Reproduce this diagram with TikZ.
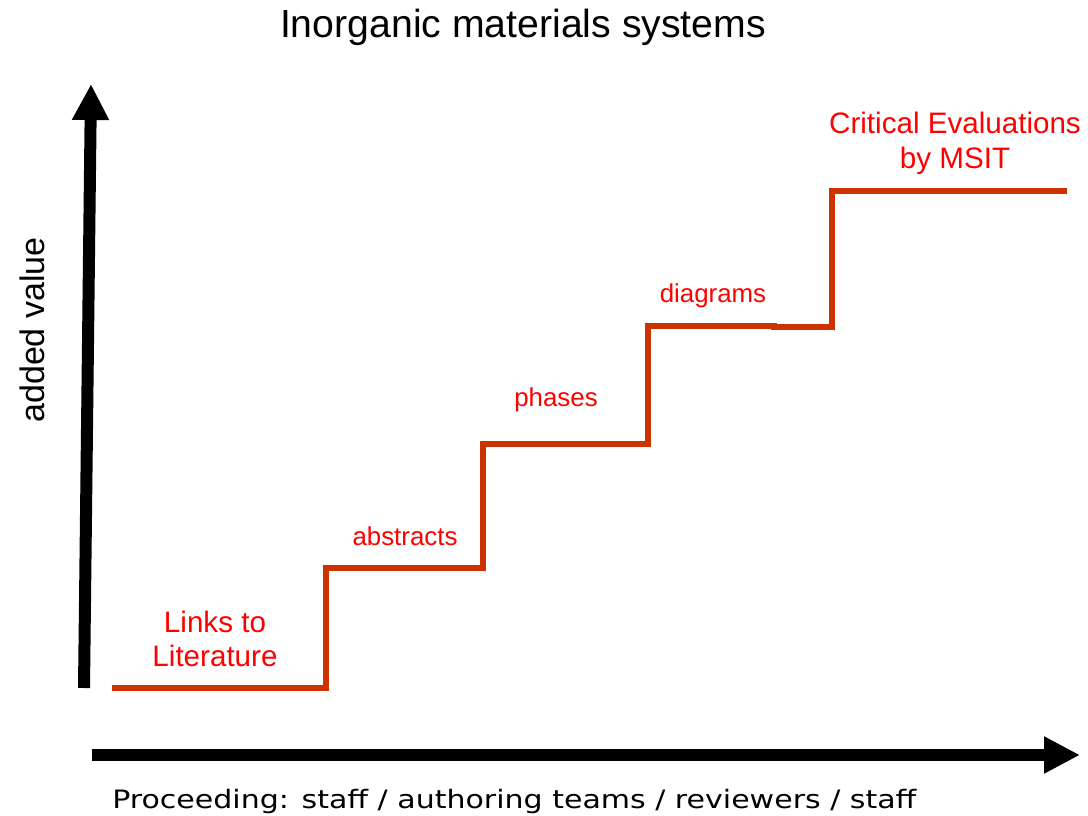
\documentclass[tikz,border=0pt]{standalone}
\usepackage{fontspec}
\setmainfont{Liberation Sans}
\newfontfamily\verd{DejaVu Sans}
\usetikzlibrary{arrows.meta}
\definecolor{stepc}{HTML}{CC3300}
\definecolor{lab}{HTML}{FF0000}
\tikzset{
  axis/.style={line width=9pt, -{Triangle[length=27pt,width=26pt]}},
  stepline/.style={line width=4.5pt, stepc, line join=miter},
  lbl/.style={text=lab, font=\fontsize{19.4}{25}\selectfont, align=center, inner sep=0pt},
  biglbl/.style={text=lab, font=\fontsize{22.2}{26}\selectfont, align=center, inner sep=0pt}
}
\begin{document}
\begin{tikzpicture}[x=0.75pt,y=-0.75pt]
\useasboundingbox (0,0) rectangle (1088,816);
% axes
\coordinate (ybot) at (84,688);
\coordinate (ytop) at (91,84);
\coordinate (xleft) at (92,755);
\coordinate (xright) at (1080,755);
\draw[axis] (ybot) -- (ytop);
\draw[axis] (xleft) -- (xright);
% step line
\draw[stepline] (112,688) -- (326,688) -- (326,568) -- (483,568) -- (483,444) -- (648,444) -- (648,326) -- (774,326) -- (774,327) -- (832,327) -- (832,191) -- (1067,191);
% labels
\node[anchor=base, font=\fontsize{29.4}{33}\selectfont, inner sep=0pt] (title) at (523,38) {Inorganic materials systems};
\node[anchor=base, rotate=90, font=\fontsize{25.5}{30}\selectfont, inner sep=0pt] (yl) at (44,330) {added value};
\node[biglbl, anchor=base] (l1) at (215,632) {Links to};
\node[biglbl, anchor=base] (l2) at (215,666) {Literature};
\node[lbl, anchor=base] (abs) at (405,545) {abstracts};
\node[lbl, anchor=base] (ph) at (556,406) {phases};
\node[lbl, anchor=base] (dg) at (713,303) {diagrams};
\node[biglbl, anchor=base] (c1) at (955,134) {Critical Evaluations};
\node[biglbl, anchor=base] (c2) at (955,169) {by MSIT};
\node[anchor=base west, inner sep=0pt] (xl) at (112,808) {\scalebox{1.185}[1]{\verd\fontsize{19}{22}\selectfont Proceeding: staff / authoring teams / reviewers / staff}};
\end{tikzpicture}
\end{document}
